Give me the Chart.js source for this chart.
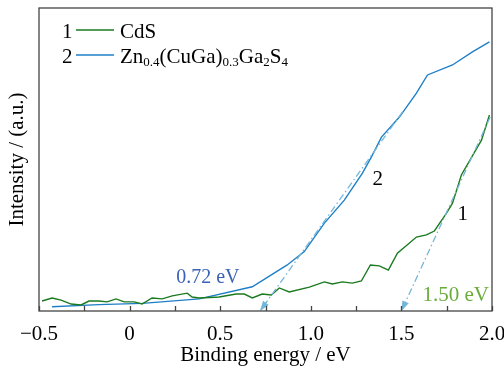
<!DOCTYPE html>
<html><head><meta charset="utf-8">
<script src="https://cdn.jsdelivr.net/npm/chart.js@4.4.1/dist/chart.umd.min.js"></script>
<style>html,body{margin:0;padding:0;background:#fff}#wrap{width:504px;height:369px}</style>
</head><body><div id="wrap"><canvas id="c" width="504" height="369"></canvas></div>
<script>
const xTicks = [-0.5, 0, 0.5, 1.0, 1.5, 2.0];
const cdsX = [-0.483,-0.428,-0.378,-0.323,-0.268,-0.224,-0.169,-0.124,-0.075,-0.030,0.025,0.069,0.124,0.180,0.235,0.318,0.345,0.384,0.494,0.588,0.633,0.677,0.732,0.782,0.826,0.881,0.992,1.075,1.119,1.174,1.229,1.279,1.329,1.378,1.428,1.478,1.583,1.638,1.682,1.749,1.782,1.831,1.942,1.986];
const cdsY = [3.3,4.3,3.6,2.3,2.0,3.3,3.3,3.0,4.0,3.0,3.0,2.3,4.3,4.0,5.0,5.9,4.6,4.3,4.6,5.6,5.6,4.3,5.6,5.3,7.6,6.3,7.9,9.6,8.9,9.6,9.2,9.9,15.2,14.9,13.5,19.1,24.4,25.1,26.4,32.3,35.6,44.9,56.4,64.7];
const znX = [-0.428,-0.17,0.07,0.384,0.677,0.870,0.964,1.075,1.185,1.285,1.334,1.390,1.489,1.583,1.644,1.782,1.892,1.986];
const znY = [1.4,2.1,2.5,4.0,8.0,15.2,19.6,29.0,36.6,45.5,50.8,57.4,64.0,71.9,77.9,81.2,85.5,88.8];
const tan2X = [1.506, 0.72];
const tan2Y = [65.7, 0];
const tan1X = [1.99, 1.50];
const tan1Y = [64.0, 0];
const minorStep = 0.25;

const pts = (xs, ys) => xs.map((x, i) => ({x, y: ys[i]}));
const FONT = '"Liberation Serif", "Times New Roman", serif';

const overlay = {
  id: 'overlay',
  afterDatasetsDraw(chart) {
    const {ctx, chartArea: a, scales: {x, y}} = chart;
    ctx.save();
    // arrowheads at tangent ends
    chart.data.datasets.forEach((ds, i) => {
      if (!ds.isTangent) return;
      const d = ds.data, p1 = d[0], p2 = d[d.length - 1];
      const x1 = x.getPixelForValue(p1.x), y1 = y.getPixelForValue(p1.y);
      const x2 = x.getPixelForValue(p2.x), y2 = y.getPixelForValue(p2.y);
      const ang = Math.atan2(y2 - y1, x2 - x1);
      const L = 10, W = 3.5;
      ctx.fillStyle = ds.borderColor;
      ctx.beginPath();
      ctx.moveTo(x2, y2);
      ctx.lineTo(x2 - L * Math.cos(ang) + W * Math.sin(ang), y2 - L * Math.sin(ang) - W * Math.cos(ang));
      ctx.lineTo(x2 - L * Math.cos(ang) - W * Math.sin(ang), y2 - L * Math.sin(ang) + W * Math.cos(ang));
      ctx.closePath();
      ctx.fill();
    });
    // frame
    ctx.strokeStyle = '#444';
    ctx.lineWidth = 1.3;
    ctx.strokeRect(a.left, a.top, a.right - a.left, a.bottom - a.top);
    // minor inward ticks
    ctx.beginPath();
    for (let v = x.min; v <= x.max + 1e-9; v += minorStep) {
      const px = Math.round(x.getPixelForValue(v)) + 0.5;
      ctx.moveTo(px, a.bottom);
      ctx.lineTo(px, a.bottom - 5);
    }
    ctx.stroke();
    // annotations
    ctx.textBaseline = 'alphabetic';
    ctx.textAlign = 'left';
    const txt = (s, vx, vy, col, size) => {
      ctx.font = size + 'px ' + FONT;
      ctx.fillStyle = col;
      ctx.fillText(s, x.getPixelForValue(vx), y.getPixelForValue(vy));
    };
    txt('0.72 eV', 0.257, 9.24, '#3b62b6', 20);
    txt('1.50 eV', 1.616, 3.3, '#6aab3c', 21);
    txt('2', 1.340, 41.6, '#000', 21);
    txt('1', 1.809, 30.0, '#000', 21);
    // legend
    const lx = a.left + 23, lineX0 = a.left + 37, lineX1 = a.left + 75, tx = a.left + 81;
    const rows = [
      {n: '1', col: '#1a7a1f', y: 38, parts: [['CdS', 0]]},
      {n: '2', col: '#1f7fc6', y: 63, parts: [['Zn', 0], ['0.4', 1], ['(CuGa)', 0], ['0.3', 1], ['Ga', 0], ['2', 1], ['S', 0], ['4', 1]]}
    ];
    rows.forEach(r => {
      ctx.fillStyle = '#000';
      ctx.font = '21px ' + FONT;
      ctx.fillText(r.n, lx, r.y);
      ctx.strokeStyle = r.col;
      ctx.lineWidth = 1.5;
      ctx.beginPath();
      ctx.moveTo(lineX0, r.y - 8);
      ctx.lineTo(lineX1, r.y - 8);
      ctx.stroke();
      let cx = tx;
      r.parts.forEach(([s, sub]) => {
        ctx.font = (sub ? '13px ' : '21px ') + FONT;
        ctx.fillText(s, cx, r.y + (sub ? 3 : 0));
        cx += ctx.measureText(s).width;
      });
    });
    ctx.restore();
  }
};

new Chart(document.getElementById('c'), {
  type: 'line',
  data: {
    datasets: [
      {data: pts(tan2X, tan2Y), borderColor: '#74b6da', borderWidth: 1.3, borderDash: [7, 3, 1.5, 3], pointRadius: 0, isTangent: true},
      {data: pts(tan1X, tan1Y), borderColor: '#74b6da', borderWidth: 1.3, borderDash: [7, 3, 1.5, 3], pointRadius: 0, isTangent: true},
      {data: pts(cdsX, cdsY), borderColor: '#1a7a1f', borderWidth: 1.4, pointRadius: 0, tension: 0},
      {data: pts(znX, znY), borderColor: '#1f7fc6', borderWidth: 1.4, pointRadius: 0, tension: 0}
    ]
  },
  options: {
    responsive: false,
    animation: false,
    devicePixelRatio: 1,
    layout: {padding: {top: 8, right: 12, left: 0, bottom: 0}},
    plugins: {legend: {display: false}, tooltip: {enabled: false}},
    scales: {
      x: {
        type: 'linear', min: -0.5, max: 2.0,
        afterBuildTicks: s => { s.ticks = xTicks.map(v => ({value: v})); },
        afterFit: s => { s.height = 58; s.paddingLeft = 0; s.paddingRight = 0; },
        grid: {display: false},
        border: {display: false},
        ticks: {
          color: '#000', padding: 3, autoSkip: false, maxRotation: 0,
          font: {family: FONT, size: 21},
          callback: v => v === 0 ? '0' : (v < 0 ? '\u2212' + Math.abs(v).toFixed(1) : v.toFixed(1))
        },
        title: {display: true, text: 'Binding energy / eV', color: '#000', font: {family: FONT, size: 21}, padding: {top: 0, bottom: 1}}
      },
      y: {
        type: 'linear', min: 0, max: 100,
        afterFit: s => { s.width = 39; },
        grid: {display: false},
        border: {display: false},
        ticks: {display: false},
        title: {display: true, text: 'Intensity / (a.u.)', color: '#000', font: {family: FONT, size: 21}, padding: {top: 5, bottom: 0}}
      }
    }
  },
  plugins: [overlay]
});
</script>
</body></html>
